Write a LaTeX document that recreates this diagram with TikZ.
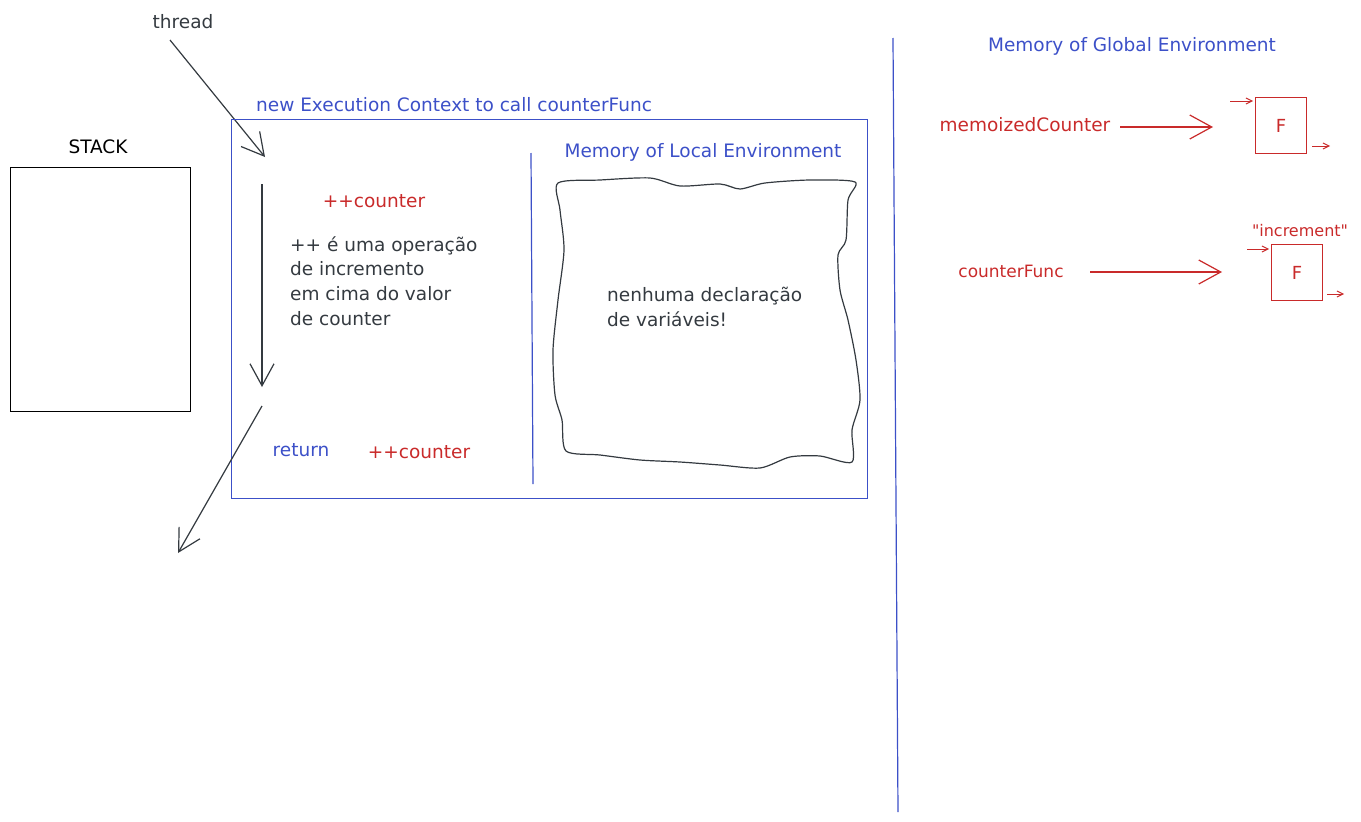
\documentclass[tikz,border=0pt]{standalone}
\usepackage{fontspec}
\setmainfont{DejaVu Sans}[Ligatures=TeXOff]
\usetikzlibrary{arrows.meta,positioning}
\definecolor{inkblue}{RGB}{60,80,200}
\definecolor{inkred}{RGB}{201,42,42}
\definecolor{inkgray}{RGB}{52,58,64}

\begin{document}
\begin{tikzpicture}[x=1pt,y=-1pt,
    hand/.style={font=\fontsize{18.5}{24.7}\selectfont, inner sep=0pt},
    bluetxt/.style={hand, text=inkblue},
    redtxt/.style={hand, text=inkred},
    graytxt/.style={hand, text=inkgray},
    barb/.style={-{Straight Barb[length=22pt,width=24pt]}, line width=1.2pt},
    tinybarb/.style={-{Straight Barb[length=6pt,width=6pt]}, line width=1pt, draw=inkred},
    fbox/.style={draw=inkred, line width=1.3pt, minimum width=51pt, minimum height=56pt,
        inner sep=0pt, text=inkred, font=\fontsize{18}{20}\selectfont}
]
    \useasboundingbox (0,0) rectangle (1361,822);

    % Thread
    \node[graytxt] (thread) at (183,22) {thread};
    \coordinate (threadstart) at (170,40);
    \coordinate (threadtip) at (265,157);
    \draw[barb, inkgray] (threadstart) -- (threadtip);

    % Stack
    \node[hand, text=black] (stacklabel) at (98,147) {STACK};
    \node[draw=black, line width=1.4pt, minimum width=180pt, minimum height=244pt,
        anchor=north west] (stack) at (10,167) {};

    % Execution context
    \node[draw=inkblue, line width=1.2pt, minimum width=636pt, minimum height=379pt,
        anchor=north west] (ec) at (231,119) {};
    \node[bluetxt, anchor=west] (eclabel) at (256,105) {new Execution Context to call counterFunc};

    \coordinate (runtop) at (262,184);
    \coordinate (runbot) at (262,387);
    \draw[barb, inkgray] (runtop) -- (runbot);
    \node[redtxt] (inc1) at (374,201) {++counter};
    \node[graytxt, anchor=west, align=left] (incnote) at (290,281)
        {++ é uma operação\\de incremento\\em cima do valor\\de counter};

    \coordinate (retstart) at (262,406);
    \coordinate (retend) at (178,553);
    \draw[barb, inkgray] (retstart) -- (retend);
    \node[bluetxt] (ret) at (301,450) {return};
    \node[redtxt] (inc2) at (419,452) {++counter};

    % Local memory
    \coordinate (divtop) at (531,153);
    \coordinate (divbot) at (533,484);
    \draw[inkblue, line width=1.2pt] (divtop) -- (divbot);
    \node[bluetxt] (localmem) at (703,152) {Memory of Local Environment};
    \draw[inkgray, line width=1.2pt] plot[smooth cycle, tension=0.45] coordinates {
        (558,183) (600,180) (650,178) (680,186) (720,184) (740,189) (765,183)
        (810,180) (855,182) (848,200) (846,240) (838,255) (840,290) (848,320)
        (856,360) (860,400) (852,430) (852,462) (820,456) (790,457) (760,468)
        (720,465) (680,462) (640,460) (600,455) (566,451) (562,420) (555,395)
        (553,350) (558,300) (564,250) (560,210)};
    \node[graytxt, anchor=west, align=left] (localnote) at (607,307)
        {nenhuma declaração\\de variáveis!};

    % Global memory
    \coordinate (gdivtop) at (893,38);
    \coordinate (gdivbot) at (898,812);
    \draw[inkblue, line width=1.2pt] (gdivtop) -- (gdivbot);
    \node[bluetxt] (globalmem) at (1132,46) {Memory of Global Environment};

    \node[redtxt] (memo) at (1025,125) {memoizedCounter};
    \node[fbox, anchor=north west] (memof) at (1255,97) {F};
    \coordinate (memoarrstart) at (1120,127);
    \coordinate (memoarrend) at (1213,127);
    \draw[barb, inkred] (memoarrstart) -- (memoarrend);
    \coordinate (memoina) at (1230,101);
    \coordinate (memoinb) at (1253,101);
    \coordinate (memoouta) at (1312,146);
    \coordinate (memooutb) at (1330,146);
    \draw[tinybarb] (memoina) -- (memoinb);
    \draw[tinybarb] (memoouta) -- (memooutb);

    \node[redtxt, font=\fontsize{17}{18}\selectfont] (cfunc) at (1011,271) {counterFunc};
    \node[fbox, anchor=north west] (cfuncf) at (1271,244) {F};
    \node[redtxt, font=\fontsize{16}{18}\selectfont] (incname) at (1300,231) {"increment"};
    \coordinate (cfarrstart) at (1090,272);
    \coordinate (cfarrend) at (1222,272);
    \draw[barb, inkred] (cfarrstart) -- (cfarrend);
    \coordinate (cfina) at (1247,249);
    \coordinate (cfinb) at (1269,249);
    \coordinate (cfouta) at (1327,294);
    \coordinate (cfoutb) at (1344,294);
    \draw[tinybarb] (cfina) -- (cfinb);
    \draw[tinybarb] (cfouta) -- (cfoutb);
\end{tikzpicture}
\end{document}
